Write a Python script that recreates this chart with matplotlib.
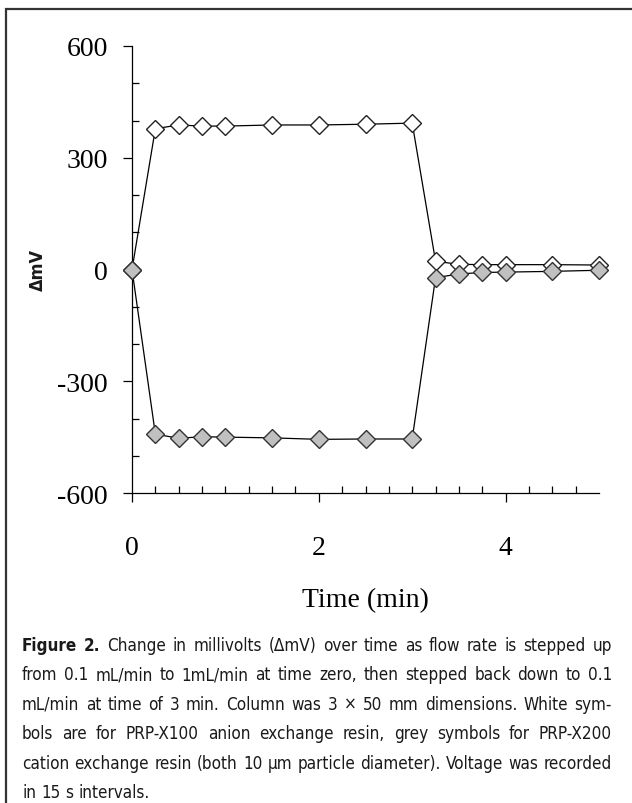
import matplotlib.pyplot as plt
import numpy as np
from matplotlib import font_manager
from matplotlib.ticker import MultipleLocator, FixedLocator
from matplotlib.patches import Rectangle

# data
time_min = [0, 0.25, 0.5, 0.75, 1.0, 1.5, 2.0, 2.5, 3.0, 3.25, 3.5, 3.75, 4.0, 4.5, 5.0]
anion_mv = [0, 378, 388, 385, 385, 388, 388, 390, 393, 22, 14, 13, 13, 13, 12]      # PRP-X100, white
cation_mv = [0, -442, -453, -449, -450, -452, -456, -455, -455, -22, -12, -8, -7, -5, -2]  # PRP-X200, grey

y_ticks = [-600, -300, 0, 300, 600]
x_ticks = [0, 2, 4]

caption_lines = [
    [("Figure 2.", True), ("Change in millivolts (ΔmV) over time as flow rate is stepped up", False)],
    [("from 0.1 mL/min to 1mL/min at time zero, then stepped back down to 0.1", False)],
    [("mL/min at time of 3 min. Column was 3 × 50 mm dimensions. White sym-", False)],
    [("bols are for PRP-X100 anion exchange resin, grey symbols for PRP-X200", False)],
    [("cation exchange resin (both 10 µm particle diameter). Voltage was recorded", False)],
    [("in 15 s intervals.", False)],
]

W, H = 632, 804
plt.rcParams['axes.unicode_minus'] = False
serif = ['Liberation Serif', 'DejaVu Serif']

# pick a condensed sans if one is installed, else Roboto
cond = [f for f in font_manager.fontManager.ttflist
        if ('Narrow' in f.name or 'Condensed' in f.name or f.stretch in ('condensed', 'semi-condensed'))
        and 'Mono' not in f.name and f.style == 'normal']
if cond:
    cap_font = dict(family=[cond[0].name, 'DejaVu Sans'], stretch=cond[0].stretch)
else:
    cap_font = dict(family=['Roboto', 'DejaVu Sans'], stretch='normal')

fig = plt.figure(figsize=(W / 100, H / 100), dpi=100)

# frame around the figure + caption
fig.patches.append(Rectangle((6 / W, -0.05), 1.2, 1 - 10 / H + 0.05, transform=fig.transFigure,
                             fill=False, edgecolor='#333333', linewidth=1.6))

ax = fig.add_axes([132 / W, 1 - 494 / H, (599 - 132) / W, (494 - 47) / H])
ax.plot(time_min, anion_mv, color='black', linewidth=0.9, marker='D', markersize=9,
        markerfacecolor='white', markeredgecolor='#222222', markeredgewidth=1.0, clip_on=False, zorder=3)
ax.plot(time_min, cation_mv, color='black', linewidth=0.9, marker='D', markersize=9,
        markerfacecolor='#c0c0c0', markeredgecolor='#333333', markeredgewidth=1.0, clip_on=False, zorder=4)

ax.set_xlim(0, 5)
ax.set_ylim(-600, 600)
ax.set_yticks(y_ticks)
ax.set_xticks(x_ticks)
ax.yaxis.set_minor_locator(MultipleLocator(100))
ax.xaxis.set_minor_locator(FixedLocator(np.arange(0.25, 5, 0.25)))
ax.spines['top'].set_visible(False)
ax.spines['right'].set_visible(False)
for s in ['left', 'bottom']:
    ax.spines[s].set_linewidth(0.9)
ax.tick_params(which='major', direction='out', length=6.5, width=0.9)
ax.tick_params(which='minor', direction='in', length=5, width=0.9)
ax.tick_params(axis='y', which='major', pad=11)
ax.tick_params(axis='x', which='major', pad=24)
for lab in ax.get_xticklabels() + ax.get_yticklabels():
    lab.set_fontfamily(serif)
    lab.set_fontsize(20)

ax.set_xlabel('Time (min)', fontfamily=serif, fontsize=20, labelpad=19)
fig.text(38 / W, 1 - 270 / H, 'ΔmV', rotation=90, ha='center', va='center',
         fontweight='bold', fontsize=13, color='#1a1a1a', **cap_font)

# justified caption
fig.canvas.draw()
renderer = fig.canvas.get_renderer()
left_px, right_px = 22, 612


def measure(s, size, bold=False):
    t = fig.text(0, 0, s, fontsize=size, fontweight='bold' if bold else 'normal', **cap_font)
    w = t.get_window_extent(renderer).width
    t.remove()
    return w


# largest font size at which the widest line still fits with ordinary spaces
size = 20.0
while size > 8:
    widest = max(measure(' '.join(p[0] for p in parts), size) for parts in caption_lines)
    if widest <= (right_px - left_px) * 0.995:
        break
    size -= 0.25

space = max(measure('a a', size) - measure('aa', size), 0.3 * size * 100 / 72)
y0, dy = 646, 29.5
for i, parts in enumerate(caption_lines):
    words = []
    for text, bold in parts:
        for w in text.split(' '):
            words.append((w, bold))
    y = 1 - (y0 + i * dy) / H
    objs = []
    for w, bold in words:
        t = fig.text(0, y, w, fontsize=size, fontweight='bold' if bold else 'normal',
                     va='center', ha='left', color='#1a1a1a', **cap_font)
        objs.append(t)
    widths = [t.get_window_extent(renderer).width for t in objs]
    if i == len(caption_lines) - 1:
        gap = space
    else:
        gap = (right_px - left_px - sum(widths)) / (len(objs) - 1)
    x = left_px
    for t, w in zip(objs, widths):
        t.set_x(x / W)
        x += w + gap

fig.savefig('out.png', dpi=100)
